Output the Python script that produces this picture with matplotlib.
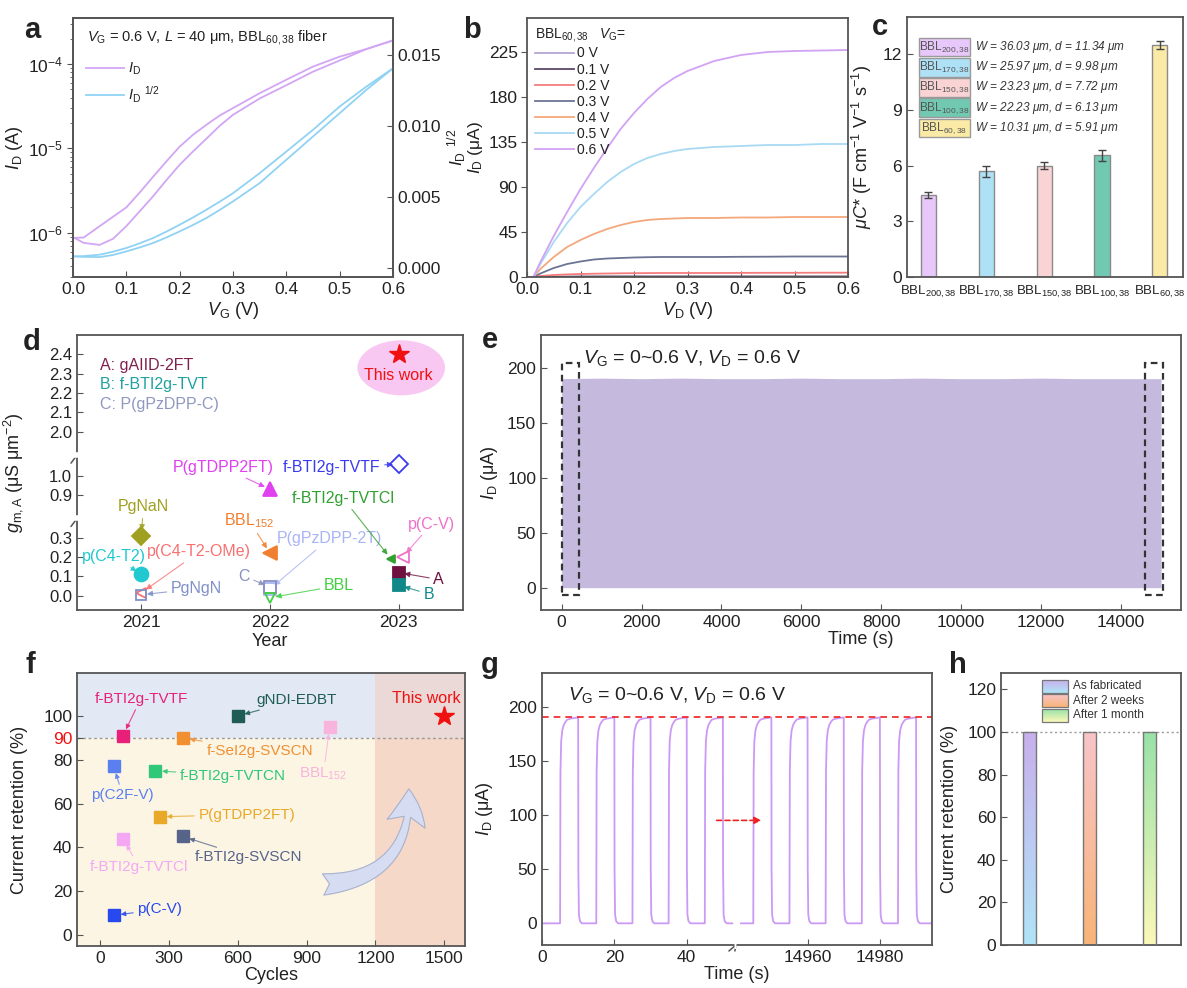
import numpy as np
import matplotlib
matplotlib.use('Agg')
import matplotlib.pyplot as plt
from matplotlib.patches import Rectangle, Ellipse, FancyArrowPatch
from matplotlib.lines import Line2D
from matplotlib.ticker import FormatStrFormatter
import matplotlib.colors as mcolors

plt.rcParams.update({
    'font.family': ['Liberation Sans', 'DejaVu Sans'],
    'mathtext.fontset': 'custom',
    'mathtext.rm': 'Liberation Sans',
    'mathtext.it': 'Liberation Sans:italic',
    'mathtext.bf': 'Liberation Sans:bold',
    'axes.edgecolor': '#555555',
    'axes.linewidth': 1.3,
    'xtick.color': '#555555', 'ytick.color': '#555555',
    'xtick.labelcolor': '#222222', 'ytick.labelcolor': '#222222',
    'xtick.direction': 'in', 'ytick.direction': 'in',
    'xtick.major.size': 4, 'ytick.major.size': 4,
    'xtick.labelsize': 12.5, 'ytick.labelsize': 12.5,
    'font.size': 12,
    'axes.labelsize': 13,
    'text.color': '#222222', 'axes.labelcolor': '#222222',
})

# ---------------- data ----------------
# (a) transfer curve
a_vg = [0, 0.02, 0.05, 0.075, 0.1, 0.125, 0.15, 0.175, 0.2, 0.225, 0.25, 0.275, 0.3,
        0.35, 0.4, 0.45, 0.5, 0.55, 0.6]
a_id_up = [8.7e-7, 8.8e-7, 1.2e-6, 1.55e-6, 2.0e-6, 3.0e-6, 4.6e-6, 7.0e-6, 1.05e-5, 1.45e-5,
           1.9e-5, 2.45e-5, 3.0e-5, 4.5e-5, 6.5e-5, 9.3e-5, 1.22e-4, 1.5e-4, 1.9e-4]
a_id_dn = [8.9e-7, 7.6e-7, 7.2e-7, 8.5e-7, 1.2e-6, 1.8e-6, 2.7e-6, 4.2e-6, 6.4e-6, 9.2e-6,
           1.3e-5, 1.85e-5, 2.5e-5, 3.9e-5, 5.6e-5, 8.1e-5, 1.1e-4, 1.5e-4, 1.9e-4]
a_sq_up = [0.00082, 0.00084, 0.00094, 0.00115, 0.00141, 0.00174, 0.00211, 0.00256, 0.00305,
           0.00356, 0.00410, 0.00467, 0.00527, 0.00668, 0.00820, 0.00973, 0.01137, 0.01277, 0.01406]
a_sq_dn = [0.00082, 0.00079, 0.00077, 0.00092, 0.00117, 0.00145, 0.00176, 0.00215, 0.00258,
           0.00303, 0.00352, 0.00409, 0.00469, 0.00598, 0.00762, 0.00926, 0.01090, 0.01254, 0.01406]

# (b) output curves
b_vd = [0, 0.012, 0.025, 0.05, 0.075, 0.1, 0.125, 0.15, 0.175, 0.2, 0.225, 0.25, 0.275,
        0.3, 0.35, 0.4, 0.45, 0.5, 0.55, 0.6]
b_labels = ['0 V', '0.1 V', '0.2 V', '0.3 V', '0.4 V', '0.5 V', '0.6 V']
b_i00 = [0, 0, 0, 0.05, 0.05, 0.1, 0.1, 0.1, 0.1, 0.1, 0.1, 0.1, 0.1, 0.1, 0.1, 0.1, 0.1, 0.1, 0.1, 0.1]
b_i01 = [0, 0, 0.1, 0.3, 0.4, 0.5, 0.55, 0.6, 0.6, 0.6, 0.6, 0.6, 0.6, 0.6, 0.6, 0.6, 0.6, 0.6, 0.6, 0.6]
b_i02 = [0, 0, 1, 2, 2.6, 3, 3.3, 3.5, 3.7, 3.8, 3.9, 4, 4, 4, 4, 4.1, 4.2, 4.2, 4.3, 4.3]
b_i03 = [0, 0, 3.5, 9, 13, 15.5, 17.5, 18.5, 19, 19.5, 19.8, 20, 20, 20, 20, 20.2, 20.3, 20.5, 20.5, 20.5]
b_i04 = [0, 0, 8, 20, 30, 37, 43, 48, 52, 55, 57, 58, 58.5, 59, 59, 59.5, 59.5, 60, 60, 60]
b_i05 = [0, 0, 13, 35, 54, 70, 83, 95, 105, 113, 119, 123, 126, 128, 130, 131, 132, 132, 133, 133]
b_i06 = [0, 0, 15, 41, 65, 88, 109, 129, 148, 164, 178, 190, 199, 206, 216, 222, 225, 226, 226.5, 227]

# (c) mu C*
c_cats = [r'BBL$_{200,38}$', r'BBL$_{170,38}$', r'BBL$_{150,38}$', r'BBL$_{100,38}$', r'BBL$_{60,38}$']
c_vals = [4.4, 5.7, 6.0, 6.55, 12.5]
c_errs = [0.15, 0.3, 0.2, 0.3, 0.2]
c_desc = [r'$W$ = 36.03 μm, $d$ = 11.34 μm', r'$W$ = 25.97 μm, $d$ = 9.98 μm',
          r'$W$ = 23.23 μm, $d$ = 7.72 μm', r'$W$ = 22.23 μm, $d$ = 6.13 μm',
          r'$W$ = 10.31 μm, $d$ = 5.91 μm']

# (d) g_m,A benchmark
d_names = ['P(gTDPP2FT)', 'f-BTI2g-TVTF', 'PgNaN', 'p(C4-T2)', 'p(C4-T2-OMe)', 'PgNgN',
           r'BBL$_{152}$', 'P(gPzDPP-2T)', 'C', 'BBL', 'f-BTI2g-TVTCl', 'p(C-V)', 'A', 'B']
d_year = [2022, 2023, 2021, 2021, 2021, 2021, 2022, 2022, 2022, 2022, 2022.94, 2023.03, 2023, 2023]
d_gm = [0.93, 1.06, 0.31, 0.11, 0.015, 0.005, 0.22, 0.035, 0.045, -0.01, 0.19, 0.20, 0.12, 0.055]
d_this_year = 2023
d_this_gm = 2.40
d_legend = ['A: gAIID-2FT', 'B: f-BTI2g-TVT', 'C: P(gPzDPP-C)']

# (e) long-term cycling envelope
e_time = [0, 1000, 2000, 3000, 4000, 5000, 6000, 7000, 8000, 9000, 10000, 11000, 12000, 13000, 14000, 15000]
e_top = [190, 190.5, 190, 190.5, 190, 190, 190.5, 190, 190, 190.5, 190, 190, 190.5, 190, 190, 190]

# (f) retention benchmark
f_names = ['f-BTI2g-TVTF', 'gNDI-EDBT', r'BBL$_{152}$', 'f-SeI2g-SVSCN', 'p(C2F-V)',
           'f-BTI2g-TVTCN', 'P(gTDPP2FT)', 'f-BTI2g-SVSCN', 'f-BTI2g-TVTCl', 'p(C-V)']
f_cycles = [100, 600, 1000, 360, 60, 240, 260, 360, 100, 60]
f_ret = [91, 100, 95, 90, 77, 75, 54, 45, 44, 9]
f_this_cycles = 1500
f_this_ret = 100
f_threshold = 90
f_region_start = 1200

# (g) switching cycles (first and last)
g_on_left = [5, 15, 25, 35, 45]
g_on_right = [14945, 14955, 14965, 14975, 14985]
g_seg_left = (0, 52.6)
g_seg_right = (14941.6, 14994.4)
g_pulse_dt = [0, 0.1, 0.3, 0.6, 1.0, 1.5, 2.0, 3.0, 4.0, 5.0, 5.05, 5.2, 5.5, 6.0]
g_pulse_i = [0, 140, 168, 178, 183, 186, 188, 189, 189.5, 190, 50, 8, 2, 0]
g_ref_level = 190

# (h) storage retention
h_labels = ['As fabricated', 'After 2 weeks', 'After 1 month']
h_vals = [100, 100, 100]

# ---------------- figure ----------------
W, H = 1187, 988
fig = plt.figure(figsize=(W / 100, H / 100), dpi=100)


def add_ax(x0, y0, x1, y1):
    return fig.add_axes([x0 / W, 1 - y1 / H, (x1 - x0) / W, (y1 - y0) / H])


def letter(x, y, s):
    fig.text(x / W, 1 - y / H, s, fontsize=21, fontweight='bold', ha='center', va='center')


C_PUR = '#d2a6f4'
C_BLU = '#90d2f4'

# ---- (a)
ax = add_ax(73, 18, 393, 277)
ax.plot(a_vg, a_id_up, color=C_PUR, lw=1.3)
ax.plot(a_vg, a_id_dn, color=C_PUR, lw=1.3)
ax.set_yscale('log')
ax.set_ylim(3e-7, 3.5e-4)
ax.set_xlim(0, 0.6)
ax.set_xticks(np.arange(0, 0.61, 0.1))
ax.xaxis.set_major_formatter(FormatStrFormatter('%.1f'))
ax.tick_params(axis='y', which='both', direction='out')
ax.set_xlabel(r'$V_{\rm G}$ (V)', labelpad=2)
ax.set_ylabel(r'$I_{\rm D}$ (A)', labelpad=2)
ax2 = ax.twinx()
ax2.plot(a_vg, a_sq_up, color=C_BLU, lw=1.3)
ax2.plot(a_vg, a_sq_dn, color=C_BLU, lw=1.3)
ax2.set_ylim(-0.00063, 0.0176)
ax2.set_yticks([0, 0.005, 0.010, 0.015])
ax2.yaxis.set_major_formatter(FormatStrFormatter('%.3f'))
ax2.set_ylabel(r'$I_{\rm D}$ $^{1/2}$', fontsize=12.5)
ax2.yaxis.set_label_coords(1.165, 0.5)
ax.text(0.044, 0.925, r'$V_{\rm G}$ = 0.6 V, $L$ = 40 μm, BBL$_{60,38}$ fiber',
        transform=ax.transAxes, fontsize=10.5, va='center')
ax.legend([Line2D([], [], color=C_PUR, lw=1.3), Line2D([], [], color=C_BLU, lw=1.3)],
          [r'$I_{\rm D}$', r'$I_{\rm D}$ $^{1/2}$'], loc='upper left', bbox_to_anchor=(0.0, 0.885),
          frameon=False, fontsize=10.5, handlelength=2.6, labelspacing=0.5, handletextpad=0.3)
letter(32, 30, 'a')

# ---- (b)
ax = add_ax(527, 18, 848, 277)
b_colors = ['#b6a6d4', '#5a4868', '#f47c7c', '#6c7494', '#f4a87c', '#a8daf4', '#d2a2f4']
for I, c, lab in zip([b_i00, b_i01, b_i02, b_i03, b_i04, b_i05, b_i06], b_colors, b_labels):
    ax.plot(b_vd, I, color=c, lw=1.3, label=lab)
ax.set_xlim(0, 0.6)
ax.set_ylim(0, 259)
ax.set_xticks(np.arange(0, 0.61, 0.1))
ax.xaxis.set_major_formatter(FormatStrFormatter('%.1f'))
ax.set_yticks([0, 45, 90, 135, 180, 225])
ax.tick_params(axis='y', direction='out', pad=2.5)
ax.set_xlabel(r'$V_{\rm D}$ (V)', labelpad=2)
ax.set_ylabel(r'$I_{\rm D}$ (μA)', fontsize=12.5)
ax.yaxis.set_label_coords(-0.13, 0.5)
ax.legend(loc='upper left', title=r'BBL$_{60,38}$   $V_{\rm G}$=', frameon=False, fontsize=10,
          title_fontsize=10, handlelength=2.8, labelspacing=0.15, alignment='left',
          borderaxespad=0.2, handletextpad=0.2)
letter(472, 30, 'b')

# ---- (c)
ax = add_ax(907, 17, 1183, 277)
c_colors = ['#e8c8fa', '#aee0f6', '#fad4d4', '#72c9b2', '#faeaa6']
xc = np.arange(len(c_vals))
ax.bar(xc, c_vals, width=0.26, color=c_colors, edgecolor='#8a8a8a', lw=1,
       yerr=c_errs, capsize=3, error_kw=dict(ecolor='#444444', elinewidth=1, capthick=1))
ax.set_xlim(-0.37, 4.4)
ax.set_ylim(0, 14)
ax.set_yticks([0, 3, 6, 9, 12])
ax.set_xticks(xc, c_cats, fontsize=9.5)
ax.tick_params(axis='x', length=0, pad=5)
ax.set_ylabel(r'$\mu C$* (F cm$^{-1}$ V$^{-1}$ s$^{-1}$)', labelpad=2)
ax.yaxis.set_label_coords(-0.12, 0.5)
for i, (lab, txt, col) in enumerate(zip(c_cats, c_desc, c_colors)):
    yc = 0.885 - i * 0.078
    ax.add_patch(Rectangle((0.043, yc - 0.036), 0.185, 0.072, transform=ax.transAxes,
                           fc=col, ec='#9a9a9a', lw=1))
    ax.text(0.135, yc, lab, transform=ax.transAxes, ha='center', va='center', fontsize=8.5, color='#555555')
    ax.text(0.245, yc, txt, transform=ax.transAxes, ha='left', va='center', fontsize=8.5,
            style='italic', color='#333333')
letter(880, 27, 'c')

# ---- (d)
ax = add_ax(77, 335, 463, 610)
d_xp = [-1, 0.40, 0.78, 1.107, 1.879, 3]
d_fp = [-1, 0.40, 0.401, 0.728, 0.729, 1.850]
ax.set_yscale('function', functions=(lambda v: np.interp(v, d_xp, d_fp),
                                     lambda d: np.interp(d, d_fp, d_xp)))
ax.set_ylim(-0.074, 2.5)
ax.set_xlim(2020.5, 2023.5)
ax.set_xticks([2021, 2022, 2023])
yt = [0, 0.1, 0.2, 0.3, 0.9, 1.0, 2.0, 2.1, 2.2, 2.3, 2.4]
ax.set_yticks(yt, ['%.1f' % v for v in yt])
ax.tick_params(axis='y', labelsize=12)
ax.set_xlabel('Year', labelpad=2)
ax.set_ylabel(r'$g_{\rm m,A}$ (μS μm$^{-2}$)')
ax.yaxis.set_label_coords(-0.135, 0.5)
d_mk = ['^', 'D', 'D', 'o', '<', 's', '<', 's', 's', 'v', '<', '<', 's', 's']
d_fill = [True, False, True, True, False, False, True, False, False, False, True, False, True, True]
d_col = ['#e040f0', '#3a3af0', '#a0a020', '#20c8d0', '#f87070', '#8090c8', '#f08030', '#a8b4f4',
         '#8890c0', '#40d040', '#30a030', '#f070c8', '#701040', '#108888']
d_ms = [10, 9, 9, 10, 7, 7, 10, 8, 8, 7, 6, 8, 9, 9]
d_off = [(-47, 22), (-67, -3), (2, 29), (-27, 18), (58, 41), (55, 6), (-21, 33), (59, 50),
         (-26, 11), (69, 12), (-48, 61), (29, 33), (40, -7), (30, -9)]
for i in range(len(d_names)):
    ax.plot(d_year[i], d_gm[i], marker=d_mk[i], ms=d_ms[i], color=d_col[i],
            mfc=d_col[i] if d_fill[i] else 'none', mew=1.3, ls='none', zorder=4)
    ax.annotate(d_names[i], (d_year[i], d_gm[i]), xytext=d_off[i], textcoords='offset pixels',
                ha='center', va='center', fontsize=11.5, color=d_col[i],
                arrowprops=dict(arrowstyle='-|>', color=d_col[i], lw=0.8, mutation_scale=8,
                                shrinkA=1, shrinkB=4, alpha=0.8))
ax.add_patch(Ellipse((2023.02, 2.33), 0.68, 0.285, fc='#f9c8f2', ec='none', zorder=1))
ax.plot(d_this_year, d_this_gm, marker='*', ms=15, color='#f01010', ls='none', zorder=5)
ax.text(2023.0, 2.29, 'This work', color='#f01010', ha='center', va='center', fontsize=11.5, zorder=5)
for i, (txt, col) in enumerate(zip(d_legend, ['#802050', '#20a0a0', '#9098c0'])):
    ax.text(0.06, 0.89 - i * 0.071, txt, transform=ax.transAxes, color=col, fontsize=11.5, va='center')
yaxt = ax.get_yaxis_transform()
for yb in (0.40, 1.107):
    ax.plot([-0.012, 0.012], [yb, yb], transform=yaxt, color='white', lw=4, clip_on=False, zorder=6)
    for dd in (-4, 4):
        ax.annotate('', xy=(0, yb), xycoords=yaxt, xytext=(-6, dd - 4), textcoords='offset pixels',
                    arrowprops=dict(arrowstyle='-', color='#555555', lw=1.1, shrinkA=0, shrinkB=0,
                                    relpos=(0.5, 0.5)))
letter(32, 342, 'd')

# ---- (e)
ax = add_ax(541, 335, 1181, 610)
ax.fill_between(e_time, 0, e_top, color='#c5badd', lw=0)
ax.set_xlim(-517, 15500)
ax.set_ylim(-20.3, 229.7)
ax.set_xticks(range(0, 14001, 2000))
ax.set_yticks(range(0, 201, 50))
ax.set_xlabel('Time (s)', labelpad=1)
ax.set_ylabel(r'$I_{\rm D}$ (μA)')
ax.yaxis.set_label_coords(-0.064, 0.5)
for x0, w in ((0, 440), (14600, 450)):
    ax.add_patch(Rectangle((x0, -7), w, 211, fill=False, ec='#333333', lw=1.6, ls=(0, (3, 2))))
ax.text(0.066, 0.916, r'$V_{\rm G}$ = 0~0.6 V, $V_{\rm D}$ = 0.6 V', transform=ax.transAxes,
        fontsize=14, va='center')
letter(490, 340, 'e')

# ---- (f)
ax = add_ax(77, 673, 465, 946)
ax.set_xlim(-100, 1590)
ax.set_ylim(-5, 119.6)
ax.axhspan(f_threshold, 130, xmin=0, xmax=(f_region_start + 100) / 1690, color='#e3e9f4', lw=0, zorder=0)
ax.axhspan(-10, f_threshold, xmin=0, xmax=(f_region_start + 100) / 1690, color='#fdf5e4', lw=0, zorder=0)
ax.axvspan(f_region_start, 1600, color='#f5d8c8', lw=0, zorder=0)
ax.axhspan(f_threshold, 130, xmin=(f_region_start + 100) / 1690, xmax=1, color='#ead9d6', lw=0, zorder=0)
ax.axhline(f_threshold, color='#999999', lw=1, ls=(0, (2, 2)), zorder=1)
f_col = ['#e8207a', '#1e5c55', '#f8b4dc', '#f09030', '#5a80f0', '#2ec878', '#e8a828', '#56648a',
         '#f4a8f4', '#2848f0']
f_off = [(18, 37), (59, 16), (-6, -47), (77, -13), (9, -29), (78, -5), (87, 2), (66, -21),
         (16, -28), (46, 6)]
for i in range(len(f_names)):
    ax.plot(f_cycles[i], f_ret[i], marker='s', ms=9, color=f_col[i], ls='none', zorder=4)
    ax.annotate(f_names[i], (f_cycles[i], f_ret[i]), xytext=f_off[i], textcoords='offset pixels',
                ha='center', va='center', fontsize=11, color=f_col[i],
                arrowprops=dict(arrowstyle='-|>', color=f_col[i], lw=0.8, mutation_scale=7,
                                shrinkA=1, shrinkB=5, alpha=0.8))
ax.plot(f_this_cycles, f_this_ret, marker='*', ms=15, color='#f01010', ls='none', zorder=5)
ax.annotate('This work', (f_this_cycles, f_this_ret), xytext=(-18, 17), textcoords='offset pixels',
            ha='center', va='center', fontsize=11.5, color='#f01010')
ax.add_patch(FancyArrowPatch((960, 23), (1345, 68), connectionstyle='arc3,rad=0.5',
                             arrowstyle='fancy,head_length=0.9,head_width=1.0,tail_width=0.55',
                             mutation_scale=28, fc='#d6dcf2', ec='#a8b2cc', lw=0.8, zorder=3))
ax.set_xticks([0, 300, 600, 900, 1200, 1500])
ax.set_yticks([0, 20, 40, 60, 80, 90, 100])
for lab in ax.get_yticklabels():
    if lab.get_text() == '90':
        lab.set_color('#f01010')
ax.set_xlabel('Cycles', labelpad=1)
ax.set_ylabel('Current retention (%)')
ax.yaxis.set_label_coords(-0.125, 0.5)
letter(30, 665, 'f')

# ---- (g)
ax = add_ax(542, 673, 932, 945)
g_xp = [-100, 53.6, 14940.3, 20000]
g_fp = [-100, 53.6, 53.7, 53.7 + 5059.7]
ax.set_xscale('function', functions=(lambda t: np.interp(t, g_xp, g_fp),
                                     lambda d: np.interp(d, g_fp, g_xp)))
for on_list, (t0, t1) in ((g_on_left, g_seg_left), (g_on_right, g_seg_right)):
    tt = [t0]
    ii = [0]
    for ts in on_list:
        tt += [ts + d for d in g_pulse_dt]
        ii += g_pulse_i
    tt.append(t1)
    ii.append(0)
    ax.plot(tt, ii, color='#cc99f4', lw=1.3)
ax.set_xlim(0, 14994.4)
ax.set_ylim(-20, 231)
ax.axhline(g_ref_level, color='#f02020', lw=1.2, ls=(0, (4, 3)))
ax.annotate('', xy=(14948, 95), xytext=(47.5, 95),
            arrowprops=dict(arrowstyle='-|>', color='#f02020', lw=1.2, ls=(0, (3, 2)), mutation_scale=10))
ax.set_xticks([0, 20, 40, 14960, 14980])
ax.set_yticks(range(0, 201, 50))
ax.set_xlabel('Time (s)', labelpad=1)
ax.set_ylabel(r'$I_{\rm D}$ (μA)')
ax.yaxis.set_label_coords(-0.12, 0.5)
ax.text(0.067, 0.919, r'$V_{\rm G}$ = 0~0.6 V, $V_{\rm D}$ = 0.6 V', transform=ax.transAxes,
        fontsize=14, va='center')
xaxt = ax.get_xaxis_transform()
ax.plot([53.0, 54.3], [0, 0], transform=xaxt, color='white', lw=5, clip_on=False, zorder=6,
        solid_capstyle='butt')
for dx in (-3, 3):
    ax.annotate('', xy=(53.65, 0), xycoords=xaxt, xytext=(dx - 4, -6), textcoords='offset pixels',
                arrowprops=dict(arrowstyle='-', color='#555555', lw=1.1, shrinkA=0, shrinkB=0))
letter(490, 665, 'g')

# ---- (h)
ax = add_ax(1001, 673, 1181, 945)
h_top = ['#c8b0ec', '#f8c4c8', '#98e2a8']
h_bot = ['#b0e4f8', '#f8b478', '#fcf8b8']
xh = np.arange(len(h_vals))
bars = ax.bar(xh, h_vals, width=0.22, fill=False, edgecolor='#777777', lw=1, zorder=3)
for b, ct, cb in zip(bars, h_top, h_bot):
    cmap = mcolors.LinearSegmentedColormap.from_list('g', [cb, ct])
    grad = np.linspace(0, 1, 128).reshape(-1, 1)
    ax.imshow(grad, cmap=cmap, origin='lower', aspect='auto', zorder=2,
              extent=[b.get_x(), b.get_x() + b.get_width(), 0, b.get_height()])
ax.axhline(100, color='#999999', lw=1, ls=(0, (1.5, 2)), zorder=1)
ax.set_xticks([])
ax.set_yticks(range(0, 121, 20))
ax.set_ylabel('Current retention (%)')
ax.yaxis.set_label_coords(-0.24, 0.5)
for i, (lab, ct, cb) in enumerate(zip(h_labels, h_top, h_bot)):
    y1 = 0.974 - i * 0.053
    y0 = y1 - 0.047
    cmap = mcolors.LinearSegmentedColormap.from_list('g', [cb, ct])
    ax.imshow(np.linspace(0, 1, 64).reshape(-1, 1), cmap=cmap, origin='lower', aspect='auto',
              extent=[0.226, 0.374, y0, y1], transform=ax.transAxes, zorder=4)
    ax.add_patch(Rectangle((0.226, y0), 0.148, y1 - y0, transform=ax.transAxes, fill=False,
                           ec='#777777', lw=0.9, zorder=5))
    ax.text(0.4, (y0 + y1) / 2, lab, transform=ax.transAxes, fontsize=8.5, va='center', color='#333333')
ax.set_xlim(-0.48, 2.52)
ax.set_ylim(0, 127.7)
letter(958, 665, 'h')

fig.savefig('out.png', dpi=100)
